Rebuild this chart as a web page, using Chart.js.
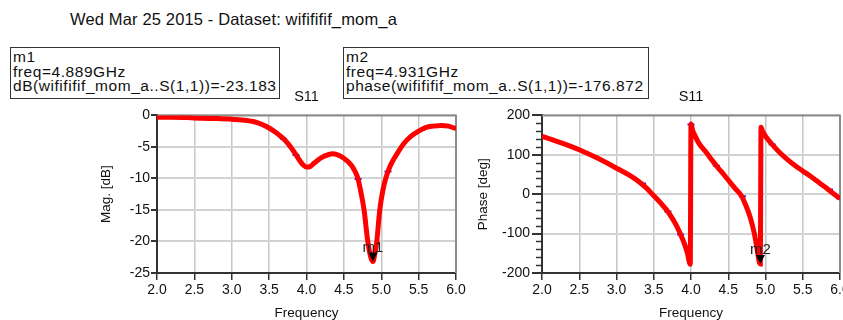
<!DOCTYPE html>
<html>
<head>
<meta charset="utf-8">
<script src="https://cdn.jsdelivr.net/npm/chart.js@4"></script>
<style>
html, body { margin: 0; padding: 0; width: 843px; height: 320px; overflow: hidden; background: #fff; }
body { position: relative; font-family: "Liberation Sans", Arial, sans-serif; color: #111; }
#title { position: absolute; left: 70px; top: 10px; font-size: 16.5px; letter-spacing: 0.15px; white-space: nowrap; }
.mbox { position: absolute; top: 47px; height: 48px; border: 1px solid #333; font-size: 15.5px; letter-spacing: 0.55px; line-height: 14.5px; padding: 2px 0 0 2px; white-space: nowrap; box-sizing: content-box; }
#m1box { left: 10px; width: 266px; }
#m2box { left: 343px; width: 302px; }
canvas { position: absolute; top: 78px; }
#magChart { left: 80px; }
#phaseChart { left: 463px; }
</style>
</head>
<body>
<div id="title">Wed Mar 25 2015 - Dataset: wifififif_mom_a</div>
<div class="mbox" id="m1box">m1<br>freq=4.889GHz<br>dB(wifififif_mom_a..S(1,1))=-23.183</div>
<div class="mbox" id="m2box">m2<br>freq=4.931GHz<br>phase(wifififif_mom_a..S(1,1))=-176.872</div>
<canvas id="magChart" width="400" height="244"></canvas>
<canvas id="phaseChart" width="400" height="244"></canvas>
<script>
// S11 magnitude (dB)
const magFreq = [2.0, 2.2, 2.4, 2.6, 2.8, 3.0, 3.1, 3.2, 3.3, 3.4, 3.5, 3.6, 3.7, 3.8, 3.9, 3.95, 4.0, 4.05, 4.1, 4.2, 4.3, 4.35, 4.4, 4.5, 4.6, 4.65, 4.69, 4.73, 4.77, 4.82, 4.86, 4.889, 4.91, 4.94, 4.98, 5.02, 5.06, 5.1, 5.15, 5.2, 5.3, 5.4, 5.5, 5.6, 5.7, 5.8, 5.9, 6.0];
const magDb = [-0.3, -0.3, -0.35, -0.45, -0.5, -0.6, -0.7, -0.8, -1.0, -1.4, -2.0, -2.8, -3.8, -5.2, -7.0, -7.8, -8.2, -8.1, -7.6, -6.7, -6.2, -6.1, -6.2, -6.8, -7.9, -8.9, -10.1, -12.3, -15.0, -20.0, -22.5, -23.18, -22.2, -20.0, -15.0, -12.0, -10.0, -8.6, -7.3, -6.3, -4.5, -3.3, -2.5, -1.9, -1.7, -1.6, -1.7, -2.1];

// S11 phase (deg)
const phaseFreq = [2.0, 2.25, 2.5, 2.75, 3.0, 3.25, 3.4, 3.5, 3.6, 3.7, 3.8, 3.9, 3.95, 3.99, 4.0, 4.02, 4.05, 4.1, 4.2, 4.3, 4.35, 4.4, 4.5, 4.6, 4.68, 4.75, 4.8, 4.85, 4.89, 4.92, 4.931, 4.935, 4.94, 4.96, 5.0, 5.1, 5.2, 5.3, 5.4, 5.5, 5.6, 5.7, 5.8, 5.9, 6.0];
const phaseDeg = [147, 131, 113, 91, 66, 39, 16, -4, -24, -47, -78, -120, -148, -178, 178, 163, 150, 131, 107, 82, 70, 59, 36, 13, -5, -35, -62, -100, -142, -175, -176.9, -5, 170, 160, 147, 124, 104, 87, 72, 59, 46, 32, 18, 3, -11];

// simulation sample points (small blue marks)
const sampleFreq = [2.0, 2.34, 2.68, 3.01, 3.35, 3.69, 3.86, 4.0, 4.34, 4.69, 5.09, 5.54, 5.86, 6.0];
const sampleMag = [-0.3, -0.35, -0.45, -0.6, -1.2, -3.7, -6.3, -8.2, -6.1, -10.1, -8.9, -2.3, -1.6, -2.1];
const samplePhase = [147, 125, 97, 65, 27, -44, -102, 177, 72, -5, 126, 53, 12, -11];

// markers
const markerName = ['m1', 'm2'];
const markerFreq = [4.889, 4.931];
const markerVal = [-23.183, -176.872];

const FONT = "'Liberation Sans', Arial, sans-serif";

function pts(xs, ys) {
    return xs.map((x, i) => ({ x: x, y: ys[i] }));
}

// gray frame on top and right edges of the plot, minor ticks on y
const framePlugin = {
    id: 'frame',
    beforeDatasetsDraw(chart) {
        const a = chart.chartArea, ctx = chart.ctx;
        ctx.save();
        ctx.strokeStyle = '#8c8c8c';
        ctx.lineWidth = 2;
        ctx.beginPath();
        ctx.moveTo(a.left, a.top);
        ctx.lineTo(a.right, a.top);
        ctx.lineTo(a.right, a.bottom);
        ctx.stroke();
        const minor = chart.options.plugins.frame.minorStep;
        if (minor) {
            const y = chart.scales.y;
            ctx.strokeStyle = '#333';
            ctx.lineWidth = 1.5;
            for (let v = y.min; v <= y.max; v += minor) {
                if (v % y.options.ticks.stepSize === 0) continue;
                const py = Math.round(y.getPixelForValue(v)) + 0.5;
                ctx.beginPath();
                ctx.moveTo(a.left - 6, py);
                ctx.lineTo(a.left, py);
                ctx.stroke();
            }
        }
        ctx.restore();
    }
};

// marker triangle + name
const markerPlugin = {
    id: 'marker',
    afterDatasetsDraw(chart) {
        const i = chart.options.plugins.marker.index;
        const px = chart.scales.x.getPixelForValue(markerFreq[i]);
        const py = chart.scales.y.getPixelForValue(markerVal[i]);
        const ctx = chart.ctx;
        ctx.save();
        ctx.fillStyle = '#000';
        ctx.beginPath();
        ctx.moveTo(px, py);
        ctx.lineTo(px - 4.5, py - 9);
        ctx.lineTo(px + 4.5, py - 9);
        ctx.closePath();
        ctx.fill();
        ctx.fillStyle = '#222';
        ctx.font = '15px ' + FONT;
        ctx.textAlign = 'center';
        ctx.textBaseline = 'middle';
        ctx.fillText(markerName[i], px, py - 14);
        ctx.restore();
    }
};

function makeChart(id, o) {
    return new Chart(document.getElementById(id), {
        type: 'line',
        data: {
            datasets: [{
                data: pts(o.freq, o.vals),
                borderColor: '#ff0000',
                borderWidth: 5,
                pointRadius: 0,
                cubicInterpolationMode: 'monotone'
            }, {
                data: pts(sampleFreq, o.samples),
                showLine: false,
                pointStyle: 'line',
                pointRadius: 3.5,
                pointBorderColor: '#2424ff',
                pointBorderWidth: 2
            }]
        },
        options: {
            responsive: false,
            animation: false,
            layout: { padding: { left: o.padLeft, right: o.padRight, top: 0, bottom: 0 } },
            plugins: {
                legend: { display: false },
                tooltip: { enabled: false },
                title: {
                    display: true, text: 'S11', fullSize: false, color: '#111',
                    font: { family: FONT, size: 14.5, weight: 'normal', lineHeight: 1.2 },
                    padding: { top: 10.5, bottom: 9.5 }
                },
                frame: { minorStep: o.minorStep },
                marker: { index: o.marker }
            },
            scales: {
                x: {
                    type: 'linear', min: 2, max: 6,
                    ticks: { stepSize: 0.5, color: '#111', padding: 2, font: { family: FONT, size: 14 },
                        callback: v => v.toFixed(1) },
                    grid: { color: '#c6c6c6', lineWidth: 1.5, tickLength: 7, tickColor: '#333' },
                    border: { color: '#333', width: 2 },
                    title: { display: true, text: 'Frequency', color: '#111', padding: { top: 2, bottom: 2 },
                        font: { family: FONT, size: 13.5, lineHeight: 1 } },
                    afterFit: s => { s.height = 49; }
                },
                y: {
                    min: o.min, max: o.max,
                    ticks: { stepSize: o.step, color: '#111', padding: o.tickPad, font: { family: FONT, size: 14 } },
                    grid: { color: '#d2d2d2', lineWidth: 2, tickLength: o.tickLen, tickColor: '#333' },
                    border: { color: '#333', width: 2 },
                    title: { display: true, text: o.yTitle, color: '#111', padding: 0,
                        font: { family: FONT, size: 13.5, lineHeight: 1 } },
                    afterFit: s => { s.width = o.yWidth; }
                }
            }
        },
        plugins: [framePlugin, markerPlugin]
    });
}

makeChart('magChart', {
    freq: magFreq, vals: magDb, samples: sampleMag,
    min: -25, max: 0, step: 5, yTitle: 'Mag. [dB]',
    padLeft: 20, padRight: 24, yWidth: 57, tickLen: 6, tickPad: 1,
    minorStep: 0, marker: 0
});

makeChart('phaseChart', {
    freq: phaseFreq, vals: phaseDeg, samples: samplePhase,
    min: -200, max: 200, step: 100, yTitle: 'Phase [deg]',
    padLeft: 13.5, padRight: 23, yWidth: 65.5, tickLen: 10, tickPad: 2,
    minorStep: 20, marker: 1
});
</script>
</body>
</html>
